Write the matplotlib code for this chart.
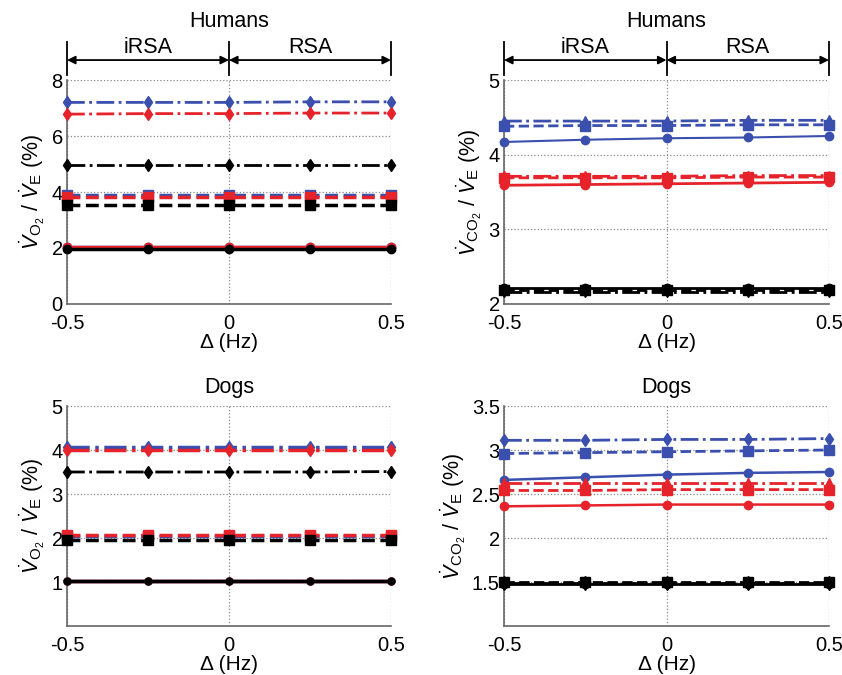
import matplotlib
matplotlib.use("Agg")
import matplotlib.pyplot as plt
from matplotlib.transforms import blended_transform_factory

plt.rcParams['font.family'] = ['Liberation Sans', 'DejaVu Sans']
plt.rcParams['mathtext.fontset'] = 'custom'
plt.rcParams['mathtext.rm'] = 'Liberation Sans'
plt.rcParams['mathtext.it'] = 'Liberation Sans:italic'
plt.rcParams['mathtext.bf'] = 'Liberation Sans:bold'

delta = [-0.5, -0.25, 0.0, 0.25, 0.5]

# Humans, VO2/VE
hum_o2_blue_solid = [2.02, 2.02, 2.02, 2.02, 2.02]
hum_o2_red_solid = [2.03, 2.03, 2.03, 2.03, 2.03]
hum_o2_black_solid = [1.98, 1.98, 1.98, 1.98, 1.98]
hum_o2_blue_dash = [3.90, 3.90, 3.90, 3.90, 3.90]
hum_o2_red_dash = [3.82, 3.82, 3.82, 3.82, 3.82]
hum_o2_black_dash = [3.52, 3.52, 3.52, 3.52, 3.52]
hum_o2_blue_dd = [7.20, 7.20, 7.20, 7.22, 7.22]
hum_o2_red_dd = [6.78, 6.80, 6.80, 6.82, 6.82]
hum_o2_black_dd = [4.95, 4.95, 4.95, 4.95, 4.95]

# Humans, VCO2/VE
hum_co2_blue_solid = [4.17, 4.20, 4.22, 4.23, 4.25]
hum_co2_red_solid = [3.59, 3.60, 3.61, 3.62, 3.63]
hum_co2_black_solid = [2.21, 2.21, 2.21, 2.21, 2.21]
hum_co2_blue_dash = [4.38, 4.39, 4.39, 4.40, 4.40]
hum_co2_red_dash = [3.69, 3.69, 3.69, 3.70, 3.70]
hum_co2_black_dash = [2.19, 2.19, 2.19, 2.19, 2.19]
hum_co2_blue_dd = [4.45, 4.45, 4.45, 4.46, 4.46]
hum_co2_red_dd = [3.71, 3.71, 3.71, 3.72, 3.72]
hum_co2_black_dd = [2.16, 2.16, 2.16, 2.16, 2.16]

# Dogs, VO2/VE
dog_o2_blue_solid = [1.03, 1.03, 1.03, 1.03, 1.03]
dog_o2_red_solid = [1.03, 1.03, 1.03, 1.03, 1.03]
dog_o2_black_solid = [1.03, 1.03, 1.03, 1.03, 1.03]
dog_o2_blue_dash = [2.04, 2.04, 2.04, 2.04, 2.04]
dog_o2_red_dash = [2.06, 2.06, 2.06, 2.06, 2.06]
dog_o2_black_dash = [1.96, 1.96, 1.96, 1.96, 1.96]
dog_o2_blue_dd = [4.06, 4.06, 4.06, 4.06, 4.06]
dog_o2_red_dd = [4.01, 4.01, 4.01, 4.01, 4.01]
dog_o2_black_dd = [3.50, 3.50, 3.50, 3.50, 3.51]

# Dogs, VCO2/VE
dog_co2_blue_solid = [2.66, 2.69, 2.72, 2.74, 2.75]
dog_co2_red_solid = [2.36, 2.37, 2.38, 2.38, 2.38]
dog_co2_black_solid = [1.48, 1.48, 1.48, 1.48, 1.48]
dog_co2_blue_dash = [2.96, 2.97, 2.98, 2.99, 3.00]
dog_co2_red_dash = [2.54, 2.54, 2.55, 2.55, 2.55]
dog_co2_black_dash = [1.50, 1.50, 1.50, 1.50, 1.50]
dog_co2_blue_dd = [3.11, 3.11, 3.12, 3.12, 3.13]
dog_co2_red_dd = [2.62, 2.62, 2.62, 2.62, 2.62]
dog_co2_black_dd = [1.49, 1.49, 1.49, 1.49, 1.49]

BLUE = '#3a4fae'
RED = '#e6232a'
BLACK = '#000000'

o2_label = r'$\dot{V}_{\mathrm{O_2}}$ / $\dot{V}_{\mathrm{E}}$ (%)'
co2_label = r'$\dot{V}_{\mathrm{CO_2}}$ / $\dot{V}_{\mathrm{E}}$ (%)'

FS = 15.5

fig = plt.figure(figsize=(8.42, 6.75), dpi=100)
W, H = 842, 675

def make_ax(l, r, t, b):
    return fig.add_axes([l / W, 1 - b / H, (r - l) / W, (b - t) / H])

ax_tl = make_ax(67, 391, 80, 304)
ax_tr = make_ax(504, 829, 80, 304)
ax_bl = make_ax(67, 391, 406, 626)
ax_br = make_ax(504, 829, 406, 626)

def draw(ax, series):
    for vals, col, ls, mk, ms, lw in series:
        ax.plot(delta, vals, color=col, linestyle=ls, marker=mk, markersize=ms,
                linewidth=lw, clip_on=False, zorder=3)

def sty(ax, ylim, yticks, ylabel, title, arrows=False):
    ax.set_xlim(-0.5, 0.5)
    ax.set_ylim(*ylim)
    ax.set_xticks([-0.5, 0, 0.5])
    ax.set_xticklabels(['-0.5', '0', '0.5'])
    ax.set_yticks(yticks)
    ax.set_yticklabels([('%g' % v) for v in yticks])
    ax.tick_params(axis='x', length=0, labelsize=14.5, pad=7)
    ax.tick_params(axis='y', length=0, labelsize=14.5, pad=3)
    ax.grid(True, linestyle=':', color='#888888', linewidth=0.9)
    ax.set_axisbelow(True)
    for s in ['top', 'right']:
        ax.spines[s].set_visible(False)
    for s in ['left', 'bottom']:
        ax.spines[s].set_color('#666666')
        ax.spines[s].set_linewidth(1.2)
    ax.set_xlabel('\u0394 (Hz)', fontsize=15, labelpad=0)
    ax.set_ylabel(ylabel, fontsize=FS, labelpad=3)
    if arrows:
        tr = blended_transform_factory(ax.transData, ax.transAxes)
        for xv in [-0.5, 0, 0.5]:
            ax.plot([xv, xv], [1.022, 1.17], color='black', lw=1.3,
                    transform=tr, clip_on=False)
        for a, b in [(-0.5, 0), (0, 0.5)]:
            ax.annotate('', xy=(a, 1.089), xytext=(b, 1.089), xycoords=tr,
                        textcoords=tr, arrowprops=dict(arrowstyle='<|-|>', color='black',
                                                       lw=1.3, mutation_scale=12,
                                                       shrinkA=0, shrinkB=0))
        ax.text(-0.25, 1.145, 'iRSA', transform=tr, ha='center', va='center', fontsize=FS)
        ax.text(0.25, 1.145, 'RSA', transform=tr, ha='center', va='center', fontsize=FS)
        ax.text(0.5, 1.26, title, transform=ax.transAxes, ha='center', va='center', fontsize=FS)
    else:
        ax.set_title(title, fontsize=FS, pad=9)

draw(ax_tl, [
    (hum_o2_blue_dd, BLUE, '-.', 'd', 6, 2.0),
    (hum_o2_red_dd, RED, '-.', 'd', 6, 2.0),
    (hum_o2_black_dd, BLACK, '-.', 'd', 6, 2.0),
    (hum_o2_blue_dash, BLUE, '--', 's', 7, 2.5),
    (hum_o2_red_dash, RED, '--', 's', 7, 2.5),
    (hum_o2_black_dash, BLACK, '--', 's', 7, 2.5),
    (hum_o2_blue_solid, BLUE, '-', 'o', 6, 2.5),
    (hum_o2_red_solid, RED, '-', 'o', 6, 2.5),
    (hum_o2_black_solid, BLACK, '-', 'o', 6, 2.5),
])
sty(ax_tl, (0, 8), [0, 2, 4, 6, 8], o2_label, 'Humans', arrows=True)

draw(ax_tr, [
    (hum_co2_blue_dd, BLUE, '-.', '^', 7, 2.0),
    (hum_co2_blue_dash, BLUE, '--', 's', 7, 2.0),
    (hum_co2_blue_solid, BLUE, '-', 'o', 6, 1.5),
    (hum_co2_red_dd, RED, '-.', '^', 7, 2.0),
    (hum_co2_red_dash, RED, '--', 's', 7, 2.0),
    (hum_co2_red_solid, RED, '-', 'o', 6, 2.0),
    (hum_co2_black_dd, BLACK, '-.', 'v', 7, 2.0),
    (hum_co2_black_dash, BLACK, '--', 's', 7, 2.0),
    (hum_co2_black_solid, BLACK, '-', 'o', 6, 2.0),
])
sty(ax_tr, (2, 5), [2, 3, 4, 5], co2_label, 'Humans', arrows=True)

draw(ax_bl, [
    (dog_o2_blue_dd, BLUE, '-.', 'd', 6, 2.5),
    (dog_o2_red_dd, RED, '-.', 'd', 6, 2.5),
    (dog_o2_black_dd, BLACK, '-.', 'd', 6, 2.0),
    (dog_o2_blue_dash, BLUE, '--', 's', 7, 2.5),
    (dog_o2_red_dash, RED, '--', 's', 7, 2.5),
    (dog_o2_black_dash, BLACK, '--', 's', 7, 2.5),
    (dog_o2_blue_solid, BLUE, '-', 'o', 5, 2.5),
    (dog_o2_red_solid, RED, '-', 'o', 5, 2.5),
    (dog_o2_black_solid, BLACK, '-', 'o', 5, 2.5),
])
sty(ax_bl, (0, 5), [1, 2, 3, 4, 5], o2_label, 'Dogs')

draw(ax_br, [
    (dog_co2_blue_dd, BLUE, '-.', 'd', 6, 2.0),
    (dog_co2_blue_dash, BLUE, '--', 's', 7, 2.0),
    (dog_co2_blue_solid, BLUE, '-', 'o', 6, 1.8),
    (dog_co2_red_dd, RED, '-.', '^', 7, 2.0),
    (dog_co2_red_dash, RED, '--', 's', 7, 2.0),
    (dog_co2_red_solid, RED, '-', 'o', 6, 1.8),
    (dog_co2_black_dd, BLACK, '-.', 'd', 7, 2.0),
    (dog_co2_black_dash, BLACK, '--', 's', 7, 2.0),
    (dog_co2_black_solid, BLACK, '-', 'o', 6, 2.0),
])
sty(ax_br, (1.0, 3.5), [1.5, 2, 2.5, 3, 3.5], co2_label, 'Dogs')

fig.savefig('out.png', dpi=100, facecolor='white')
